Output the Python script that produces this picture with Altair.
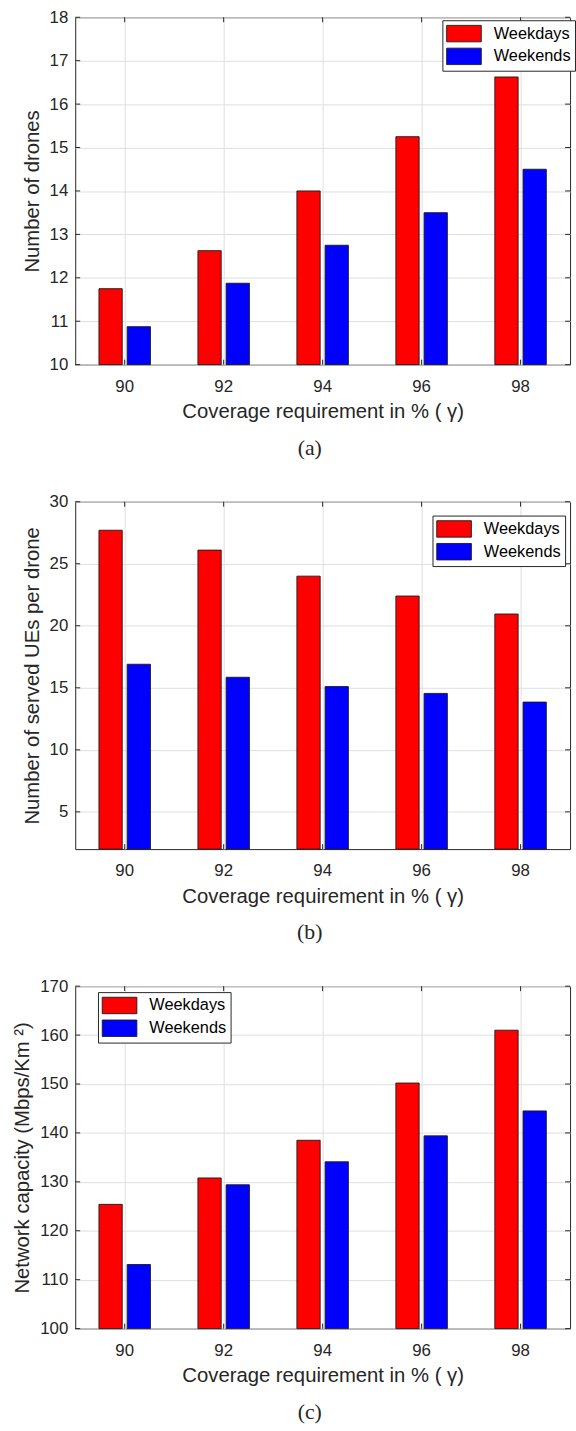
import altair as alt
import pandas as pd

# ---------------- data ----------------
gamma = [90, 92, 94, 96, 98]
series = ["Weekdays", "Weekends"]
colors = ["#ff0000", "#0000ff"]

drones_weekdays = [11.75, 12.625, 14.0, 15.25, 16.625]
drones_weekends = [10.875, 11.875, 12.75, 13.5, 14.5]

ues_weekdays = [27.7, 26.1, 24.0, 22.4, 20.95]
ues_weekends = [16.9, 15.85, 15.1, 14.55, 13.85]

cap_weekdays = [125.4, 130.8, 138.5, 150.2, 161.0]
cap_weekends = [113.1, 129.4, 134.1, 139.4, 144.5]

ticks_a = [10, 11, 12, 13, 14, 15, 16, 17, 18]
ticks_b = [5, 10, 15, 20, 25, 30]
ticks_c = [100, 110, 120, 130, 140, 150, 160, 170]

x_title = "Coverage requirement in % ( γ)"

# ---------------- styling ----------------
W = 500
FONT = "Liberation Sans"
TXT = "#262626"
TICK = 5


def panel(wd, we, ydomain, yticks, ytitle, caption, lx, ly, H):
    df = pd.DataFrame({
        "gamma": gamma * 2,
        "series": [series[0]] * len(gamma) + [series[1]] * len(gamma),
        "value": wd + we,
    })
    xscale = alt.Scale(type="band", paddingInner=0, paddingOuter=0)
    yscale = alt.Scale(domain=ydomain, zero=False, nice=False)
    xaxis = alt.Axis(title=x_title, grid=True, bandPosition=0.5, labelAngle=0)
    yaxis = alt.Axis(values=yticks, title=ytitle, grid=True)
    X = alt.X("gamma:O", scale=xscale, axis=xaxis)
    Y = alt.Y("value:Q", scale=yscale, axis=yaxis)

    bars = alt.Chart(df).mark_bar(stroke="#1a1a1a", strokeWidth=0.9).encode(
        x=X,
        xOffset=alt.XOffset("series:N", scale=alt.Scale(paddingInner=0.175, paddingOuter=0.842)),
        y=Y,
        y2=alt.Y2(datum=ydomain[0]),
        color=alt.Color("series:N", scale=alt.Scale(domain=series, range=colors),
                        legend=alt.Legend(
                            title=None, orient="none", legendX=lx, legendY=ly,
                            symbolType="M-2,-0.95L2,-0.95L2,0.95L-2,0.95Z",
                            symbolSize=306, symbolOffset=8.3,
                            symbolStrokeColor="#1a1a1a", symbolStrokeWidth=0.9,
                            symbolOpacity=1,
                            labelFont=FONT, labelFontSize=16.5, labelColor="#000000",
                            labelOffset=20.6, rowPadding=2,
                            strokeColor=TXT, fillColor="white", padding=4,
                            cornerRadius=0)),
    )
    xdf = pd.DataFrame({"gamma": gamma})
    ydf = pd.DataFrame({"value": yticks})
    xt_bot = alt.Chart(xdf).mark_rule(color=TXT, strokeWidth=1).encode(
        x=X, y=alt.value(H), y2=alt.value(H - TICK))
    xt_top = alt.Chart(xdf).mark_rule(color=TXT, strokeWidth=1).encode(
        x=X, y=alt.value(0), y2=alt.value(TICK))
    yt_left = alt.Chart(ydf).mark_rule(color=TXT, strokeWidth=1).encode(
        y=Y, x=alt.value(0), x2=alt.value(TICK))
    yt_right = alt.Chart(ydf).mark_rule(color=TXT, strokeWidth=1).encode(
        y=Y, x=alt.value(W - TICK), x2=alt.value(W))
    return alt.layer(bars, xt_bot, xt_top, yt_left, yt_right).properties(
        width=W, height=H,
        title=alt.TitleParams(caption, orient="bottom", anchor="middle", frame="group",
                              dx=-13, offset=16, font="Liberation Serif", fontSize=22,
                              fontWeight="normal", color=TXT),
    )


pa = panel(drones_weekdays, drones_weekends, [10, 18], ticks_a,
           "Number of drones", "(a)", 371, 3, 351)
pb = panel(ues_weekdays, ues_weekends, [2, 30], ticks_b,
           "Number of served UEs per drone", "(b)", 361, 14, 351)
pc = panel(cap_weekdays, cap_weekends, [100, 170], ticks_c,
           "Network capacity (Mbps/Km ²)", "(c)", 23, 6, 346)

chart = alt.vconcat(pa, pb, pc, spacing=32.5).resolve_scale(
    x="independent", y="independent", color="independent"
).resolve_legend(color="independent").properties(
    padding={"left": 12, "top": 0, "right": 0, "bottom": 0}
).configure_view(
    stroke=TXT, strokeWidth=1
).configure_axis(
    labelFont=FONT, titleFont=FONT, labelColor=TXT, titleColor=TXT,
    labelFontSize=17, titleFontSize=20.5, titleFontWeight="normal",
    gridColor="#dfdfdf", gridWidth=1, domain=False, ticks=False, tickSize=0,
).configure_axisX(
    labelPadding=14, titlePadding=7.5
).configure_axisY(
    labelPadding=7.5, titlePadding=7
)

chart.save("out.html", embed_options={"renderer": "svg", "actions": False})
